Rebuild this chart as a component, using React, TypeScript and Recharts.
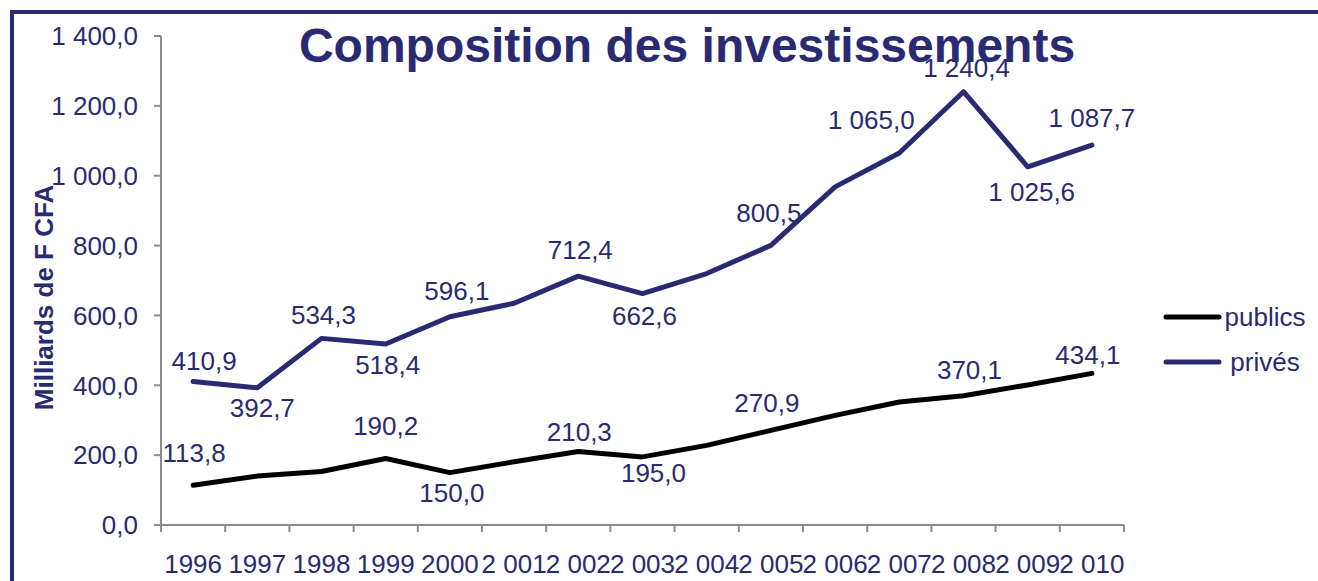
import { LineChart, Line, XAxis, YAxis, LabelList } from 'recharts'

const years = ['1996', '1997', '1998', '1999', '2000', '2 001', '2 002', '2 003', '2 004', '2 005', '2 006', '2 007', '2 008', '2 009', '2 010']
const publics = [113.8, 140, 153, 190.2, 150.0, 181, 210.3, 195.0, 228, 270.9, 314, 352, 370.1, 401, 434.1]
const prives = [410.9, 392.7, 534.3, 518.4, 596.1, 635, 712.4, 662.6, 720, 800.5, 968, 1065.0, 1240.4, 1025.6, 1087.7]
const yTicks = [0, 200, 400, 600, 800, 1000, 1200, 1400]

const NAVY = '#2a2a72'
const GRAY = '#8c8c8c'
const FONT = '"Liberation Sans", Arial, sans-serif'

// which points carry a value label, and where it sits: index -> [dx, dy of text centre]
const publicsMarks: Record<number, [number, number]> = {
  0: [1, -32], 3: [0, -33], 4: [2, 20], 6: [1, -20], 7: [11, 16], 9: [-4, -27], 12: [6, -26], 14: [-4, -18],
}
const privesMarks: Record<number, [number, number]> = {
  0: [11, -20], 1: [5, 20], 2: [2, -23], 3: [2, 21], 4: [7, -26], 6: [2, -26], 7: [2, 22],
  9: [-2, -32], 11: [-28, -33], 12: [3, -24], 13: [4, 25], 14: [0, -27],
}

const series = [
  { key: 'publics', name: 'publics', color: '#000000', marks: publicsMarks },
  { key: 'prives', name: 'privés', color: NAVY, marks: privesMarks },
]

const data = years.map((y, i) => ({ i, year: y, publics: publics[i], prives: prives[i] }))
const xTicks = years.flatMap((_, i) => [i - 0.5, i]).concat(years.length - 0.5)

const fmt = (v: number) => {
  const [int, dec] = v.toFixed(1).split('.')
  return int.replace(/\B(?=(\d{3})+(?!\d))/g, ' ') + ',' + dec
}

function XTick({ x, y, payload }: any) {
  const v = payload.value
  if (!Number.isInteger(v)) {
    return <line x1={x} x2={x} y1={y} y2={y + 7} stroke={GRAY} strokeWidth={2} />
  }
  return (
    <text x={x} y={y + 48} textAnchor="middle" fill={NAVY} fontSize={26} fontFamily={FONT}>
      {years[v]}
    </text>
  )
}

const makeLabel = (marks: Record<number, [number, number]>) => (p: any) => {
  const m = marks[p.index]
  if (!m) return null
  const px = p.viewBox?.x ?? p.x
  const py = p.viewBox?.y ?? p.y
  return (
    <text x={px + m[0]} y={py + m[1] + 9} textAnchor="middle" fill={NAVY} fontSize={26} fontFamily={FONT}>
      {fmt(Number(p.value))}
    </text>
  )
}

export default function App() {
  return (
    <div style={{ position: 'absolute', left: 0, top: 0, width: 1318, height: 581, overflow: 'hidden', background: '#fff', fontFamily: FONT }}>
      <div style={{ position: 'absolute', left: 10, top: 10, width: 1400, height: 700, border: `4px solid ${NAVY}`, boxSizing: 'border-box' }} />
      <div style={{ position: 'absolute', left: 0, top: 0 }}>
        <LineChart width={1318} height={581} data={data} margin={{ top: 36, right: 194, bottom: 0, left: 0 }}>
          <XAxis
            dataKey="i"
            type="number"
            domain={[-0.5, years.length - 0.5]}
            ticks={xTicks}
            interval={0}
            height={56}
            tickSize={0}
            tickMargin={0}
            tickLine={false}
            axisLine={{ stroke: GRAY, strokeWidth: 2 }}
            tick={<XTick />}
          />
          <YAxis
            width={161}
            domain={[0, 1400]}
            ticks={yTicks}
            interval={0}
            tickSize={7}
            tickMargin={16}
            tickFormatter={fmt}
            tick={{ fill: NAVY, fontSize: 26, fontFamily: FONT }}
            tickLine={{ stroke: GRAY, strokeWidth: 2 }}
            axisLine={{ stroke: GRAY, strokeWidth: 2 }}
            label={({ viewBox }: any) => {
              const cx = 53
              const cy = viewBox.y + viewBox.height / 2 + 17
              return (
                <text x={cx} y={cy} transform={`rotate(-90, ${cx}, ${cy})`} textAnchor="middle" fill={NAVY} fontSize={26} fontWeight="bold" fontFamily={FONT}>
                  Milliards de F CFA
                </text>
              )
            }}
          />
          {series.map((s) => (
            <Line
              key={s.key}
              type="linear"
              dataKey={s.key}
              name={s.name}
              stroke={s.color}
              strokeWidth={5}
              strokeLinecap="round"
              strokeLinejoin="round"
              dot={false}
              activeDot={false}
              isAnimationActive={false}
            >
              <LabelList dataKey={s.key} content={makeLabel(s.marks)} />
            </Line>
          ))}
        </LineChart>
      </div>
      <svg width={1318} height={581} style={{ position: 'absolute', left: 0, top: 0, pointerEvents: 'none' }}>
        <text x={687} y={62} textAnchor="middle" fill={NAVY} fontSize={48} fontWeight="bold" fontFamily={FONT}>
          Composition des investissements
        </text>
        {series.map((s, k) => (
          <g key={s.key}>
            <line x1={1166} x2={1219} y1={317 + k * 45} y2={317 + k * 45} stroke={s.color} strokeWidth={5} strokeLinecap="round" />
            <text x={1265} y={326 + k * 45} textAnchor="middle" fill={NAVY} fontSize={26} fontFamily={FONT}>
              {s.name}
            </text>
          </g>
        ))}
      </svg>
    </div>
  )
}
